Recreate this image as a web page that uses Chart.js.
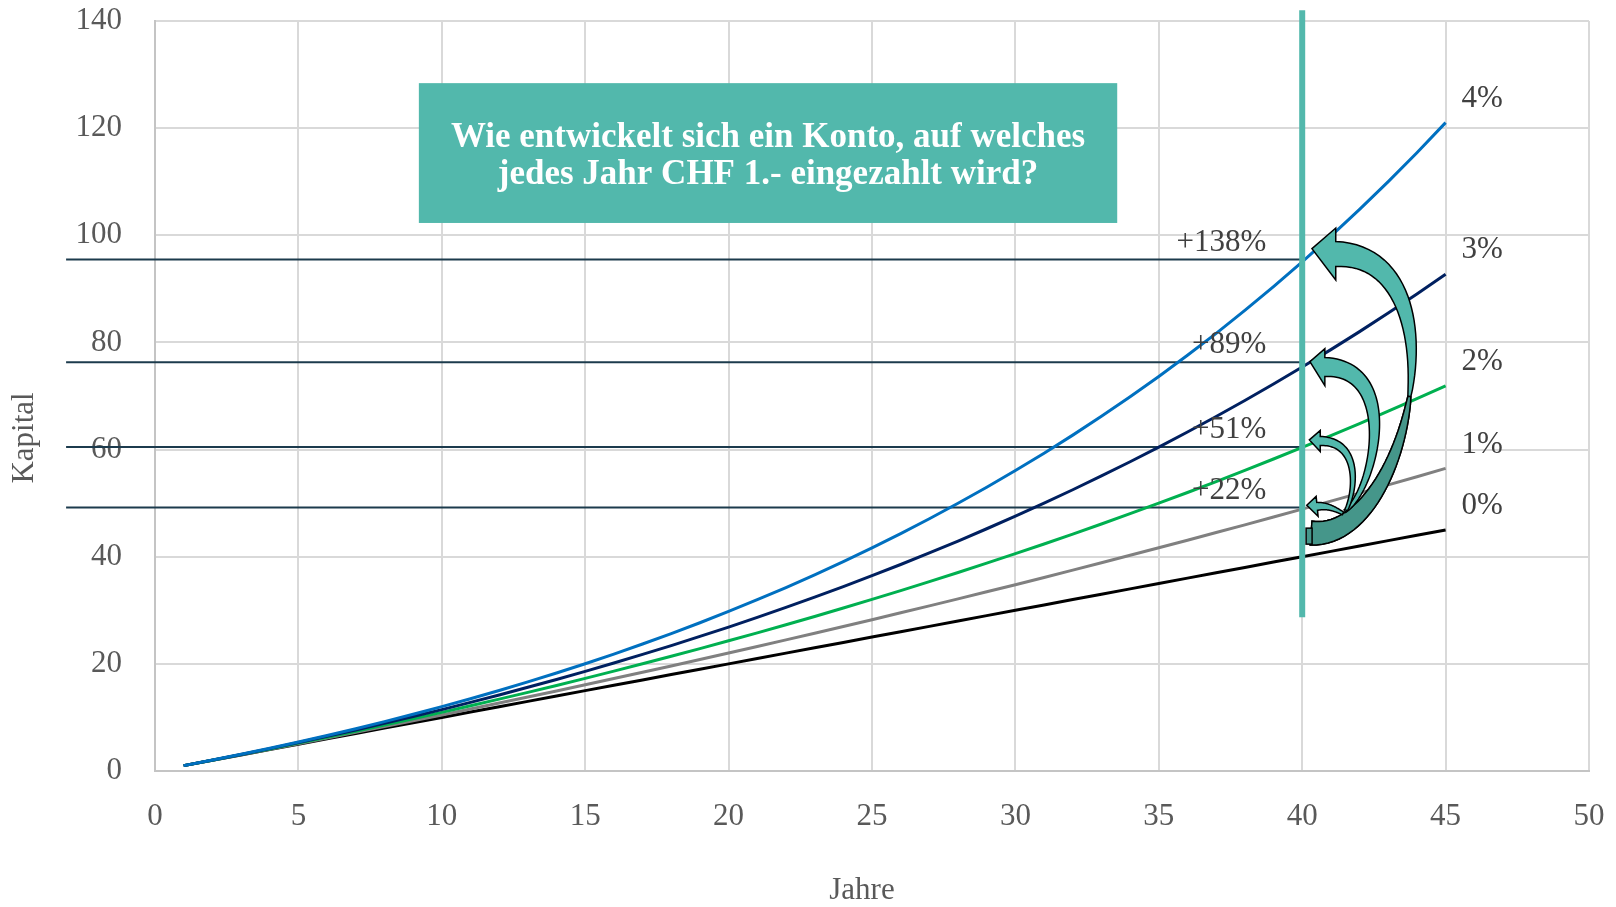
<!DOCTYPE html>
<html lang="de">
<head>
  <meta charset="UTF-8">
  <title>Kapitalentwicklung</title>
  <script src="https://cdn.jsdelivr.net/npm/chart.js"></script>
  <style>
    html, body { margin: 0; padding: 0; background: #fff; }
    canvas { display: block; }
  </style>
</head>
<body>
  <canvas id="kapitalChart" width="1616" height="907"></canvas>

  <script>
// Jahre 1..45
const years = [1,2,3,4,5,6,7,8,9,10,11,12,13,14,15,16,17,18,19,20,21,22,23,24,25,26,27,28,29,30,31,32,33,34,35,36,37,38,39,40,41,42,43,44,45];

const rate4 = [1.00,2.04,3.12,4.25,5.42,6.63,7.90,9.21,10.58,12.01,13.49,15.03,16.63,18.29,20.02,21.82,23.70,25.65,27.67,29.78,31.97,34.25,36.62,39.08,41.65,44.31,47.08,49.97,52.97,56.08,59.33,62.70,66.21,69.86,73.65,77.60,81.70,85.97,90.41,95.03,99.83,104.82,110.01,115.41,121.03];
const rate3 = [1.00,2.03,3.09,4.18,5.31,6.47,7.66,8.89,10.16,11.46,12.81,14.19,15.62,17.09,18.60,20.16,21.76,23.41,25.12,26.87,28.68,30.54,32.45,34.43,36.46,38.55,40.71,42.93,45.22,47.58,50.00,52.50,55.08,57.73,60.46,63.28,66.17,69.16,72.23,75.40,78.66,82.02,85.48,89.05,92.72];
const rate2 = [1.00,2.02,3.06,4.12,5.20,6.31,7.43,8.58,9.75,10.95,12.17,13.41,14.68,15.97,17.29,18.64,20.01,21.41,22.84,24.30,25.78,27.30,28.84,30.42,32.03,33.67,35.34,37.05,38.79,40.57,42.38,44.23,46.11,48.03,49.99,51.99,54.03,56.11,58.24,60.40,62.61,64.86,67.16,69.50,71.89];
const rate1 = [1.00,2.01,3.03,4.06,5.10,6.15,7.21,8.29,9.37,10.46,11.57,12.68,13.81,14.95,16.10,17.26,18.43,19.61,20.81,22.02,23.24,24.47,25.72,26.97,28.24,29.53,30.82,32.13,33.45,34.78,36.13,37.49,38.87,40.26,41.66,43.08,44.51,45.95,47.41,48.89,50.38,51.88,53.40,54.93,56.48];
const rate0 = [1,2,3,4,5,6,7,8,9,10,11,12,13,14,15,16,17,18,19,20,21,22,23,24,25,26,27,28,29,30,31,32,33,34,35,36,37,38,39,40,41,42,43,44,45];

const seriesNames = ["4%", "3%", "2%", "1%", "0%"];
const seriesColors = ["#0070C0", "#002060", "#00B050", "#808080", "#000000"];

// Vergleich nach 40 Jahren
const markYear = 40;
const refValues = [95.5, 76.3, 60.5, 49.2];
const refLabels = ["+138%", "+89%", "+51%", "+22%"];

const xTicks = { min: 0, max: 50, step: 5 };
const yTicks = { min: 0, max: 140, step: 20 };

const boxLines = ["Wie entwickelt sich ein Konto, auf welches", "jedes Jahr CHF 1.- eingezahlt wird?"];
const xTitle = "Jahre";
const yTitle = "Kapital";

const SERIF = "'Liberation Serif', 'Times New Roman', serif";
const TEAL = "#52B8AC";
const TEAL_DARK = "#45968A";

// curved arrows, points in (year, capital) units: tail, ctrl1, ctrl2, head base, tip
const arrowShapes = [
  { pts: [[40.31, 44.4], [43.79, 43.0], [45.68, 96.5], [41.17, 96.5]], tip: [40.34, 97.5], head: 26, wTail: 24, wMid: 3, wHead: 25, twoTone: true },
  { pts: [[41.49, 48.5], [42.54, 52.4], [43.41, 75.4], [40.79, 75.4]], tip: [40.27, 76.4], head: 18.5, wTail: 3, wHead: 19 },
  { pts: [[41.53, 48.7], [41.88, 52.4], [42.02, 61.6], [40.63, 61.6]], tip: [40.25, 61.8], head: 10.5, wTail: 3, wHead: 9 },
  { pts: [[41.42, 48.1], [41.17, 48.8], [40.90, 49.6], [40.52, 49.4]], tip: [40.16, 49.6], head: 10, wTail: 3, wHead: 8 }
];

function bez(p, t) {
  const u = 1 - t;
  return [0, 1].map(k => u*u*u*p[0][k] + 3*u*u*t*p[1][k] + 3*u*t*t*p[2][k] + t*t*t*p[3][k]);
}
function bezD(p, t) {
  const u = 1 - t;
  return [0, 1].map(k => 3*u*u*(p[1][k]-p[0][k]) + 6*u*t*(p[2][k]-p[1][k]) + 3*t*t*(p[3][k]-p[2][k]));
}

function drawArrow(ctx, x, y, a) {
  const p = a.pts.map(q => [x.getPixelForValue(q[0]), y.getPixelForValue(q[1])]);
  const tip = [x.getPixelForValue(a.tip[0]), y.getPixelForValue(a.tip[1])];
  const N = 60, tm = 0.5;
  const width = t => {
    if (a.twoTone) {
      return t < tm
        ? a.wMid + (a.wTail - a.wMid) * Math.pow((tm - t) / tm, 0.8)
        : a.wMid + (a.wHead - a.wMid) * Math.pow((t - tm) / (1 - tm), 0.8);
    }
    return a.wTail + (a.wHead - a.wTail) * Math.pow(t, 1.2);
  };
  const left = [], right = [];
  let n = [0, 0];
  for (let i = 0; i <= N; i++) {
    const t = i / N;
    const c = bez(p, t), d = bezD(p, t);
    const len = Math.hypot(d[0], d[1]) || 1;
    n = [-d[1] / len, d[0] / len];
    const w = width(t) / 2;
    left.push([c[0] + n[0] * w, c[1] + n[1] * w]);
    right.push([c[0] - n[0] * w, c[1] - n[1] * w]);
  }
  const base = p[3];
  const barbA = [base[0] + n[0] * a.head, base[1] + n[1] * a.head];
  const barbB = [base[0] - n[0] * a.head, base[1] - n[1] * a.head];

  ctx.beginPath();
  ctx.moveTo(left[0][0], left[0][1]);
  left.forEach(q => ctx.lineTo(q[0], q[1]));
  ctx.lineTo(barbA[0], barbA[1]);
  ctx.lineTo(tip[0], tip[1]);
  ctx.lineTo(barbB[0], barbB[1]);
  for (let i = N; i >= 0; i--) ctx.lineTo(right[i][0], right[i][1]);
  ctx.closePath();
  ctx.fillStyle = TEAL;
  ctx.fill();
  ctx.stroke();

  if (a.twoTone) {
    const k = Math.round(N * tm);
    ctx.beginPath();
    ctx.moveTo(left[0][0], left[0][1]);
    for (let i = 0; i <= k; i++) ctx.lineTo(left[i][0], left[i][1]);
    for (let i = k; i >= 0; i--) ctx.lineTo(right[i][0], right[i][1]);
    ctx.closePath();
    ctx.fillStyle = TEAL_DARK;
    ctx.fill();
    ctx.stroke();
    // small end cap at the tail
    ctx.fillRect(p[0][0] - 5, p[0][1] - 5, 6, 16);
    ctx.strokeRect(p[0][0] - 5, p[0][1] - 5, 6, 16);
  }
}

const overlay = {
  id: 'overlay',
  beforeDatasetsDraw(chart) {
    const { ctx, scales: { x, y } } = chart;
    ctx.save();
    ctx.strokeStyle = "#1c3b4d";
    ctx.lineWidth = 2;
    refValues.forEach(v => {
      const py = y.getPixelForValue(v);
      ctx.beginPath();
      ctx.moveTo(x.getPixelForValue(-3.1), py);
      ctx.lineTo(x.getPixelForValue(markYear), py);
      ctx.stroke();
    });
    ctx.restore();
  },
  afterDatasetsDraw(chart) {
    const { ctx, scales: { x, y } } = chart;
    ctx.save();

    // vertical marker at year 40
    const mx = x.getPixelForValue(markYear);
    ctx.strokeStyle = TEAL;
    ctx.lineWidth = 6;
    ctx.beginPath();
    ctx.moveTo(mx, y.getPixelForValue(142));
    ctx.lineTo(mx, y.getPixelForValue(28.7));
    ctx.stroke();

    // question box
    const bx0 = x.getPixelForValue(9.2), bx1 = x.getPixelForValue(33.55);
    const by0 = y.getPixelForValue(128.4), by1 = y.getPixelForValue(102.3);
    ctx.fillStyle = TEAL;
    ctx.fillRect(bx0, by0, bx1 - bx0, by1 - by0);
    ctx.fillStyle = "#ffffff";
    ctx.font = "bold 35px " + SERIF;
    ctx.textAlign = "center";
    ctx.textBaseline = "middle";
    const cy = (by0 + by1) / 2;
    ctx.fillText(boxLines[0], (bx0 + bx1) / 2, cy - 15);
    ctx.fillText(boxLines[1], (bx0 + bx1) / 2, cy + 22);

    // arrows
    ctx.strokeStyle = "#000000";
    ctx.lineWidth = 1.5;
    ctx.lineJoin = "miter";
    arrowShapes.forEach(a => drawArrow(ctx, x, y, a));

    // percentage labels
    ctx.fillStyle = "#404040";
    ctx.font = "31px " + SERIF;
    ctx.textAlign = "right";
    refValues.forEach((v, i) => {
      ctx.fillText(refLabels[i], mx - 36, y.getPixelForValue(v) - 17);
    });

    // series labels at the end of each line
    ctx.textAlign = "left";
    chart.data.datasets.forEach((ds, i) => {
      const last = ds.data[ds.data.length - 1];
      ctx.fillText(seriesNames[i], x.getPixelForValue(last.x) + 16, y.getPixelForValue(last.y) - 24);
    });

    // axis titles
    ctx.fillStyle = "#595959";
    ctx.textAlign = "center";
    ctx.fillText(xTitle, 862, 891);
    ctx.translate(25, 438);
    ctx.rotate(-Math.PI / 2);
    ctx.fillText(yTitle, 0, 0);

    ctx.restore();
  }
};

const allSeries = [rate4, rate3, rate2, rate1, rate0];

function noPad(s) {
  s.paddingTop = 0;
  s.paddingBottom = 0;
  s.paddingLeft = 0;
  s.paddingRight = 0;
}

const ctx = document.getElementById("kapitalChart").getContext("2d");
new Chart(ctx, {
  type: 'line',
  data: {
    datasets: allSeries.map((vals, i) => ({
      label: seriesNames[i],
      data: years.map((yr, j) => ({ x: yr, y: vals[j] })),
      borderColor: seriesColors[i],
      borderWidth: 3,
      pointRadius: 0,
      fill: false,
      tension: 0
    }))
  },
  options: {
    responsive: false,
    devicePixelRatio: 1,
    animation: false,
    layout: { padding: { left: 0, top: 21, right: 27, bottom: 0 } },
    plugins: {
      legend: { display: false },
      tooltip: { enabled: false }
    },
    scales: {
      x: {
        type: 'linear',
        min: xTicks.min,
        max: xTicks.max,
        ticks: { stepSize: xTicks.step, padding: 27, color: "#595959", font: { family: SERIF, size: 31 } },
        grid: { color: "#d9d9d9", lineWidth: 2, drawTicks: false },
        border: { color: "#c4c4c4", width: 2 },
        afterFit: s => { s.height = 136; noPad(s); }
      },
      y: {
        min: yTicks.min,
        max: yTicks.max,
        ticks: { stepSize: yTicks.step, padding: 33, color: "#595959", font: { family: SERIF, size: 31 } },
        grid: { color: "#d9d9d9", lineWidth: 2, drawTicks: false },
        border: { color: "#c4c4c4", width: 2 },
        afterFit: s => { s.width = 155; noPad(s); }
      }
    }
  },
  plugins: [overlay]
});
  </script>
</body>
</html>
